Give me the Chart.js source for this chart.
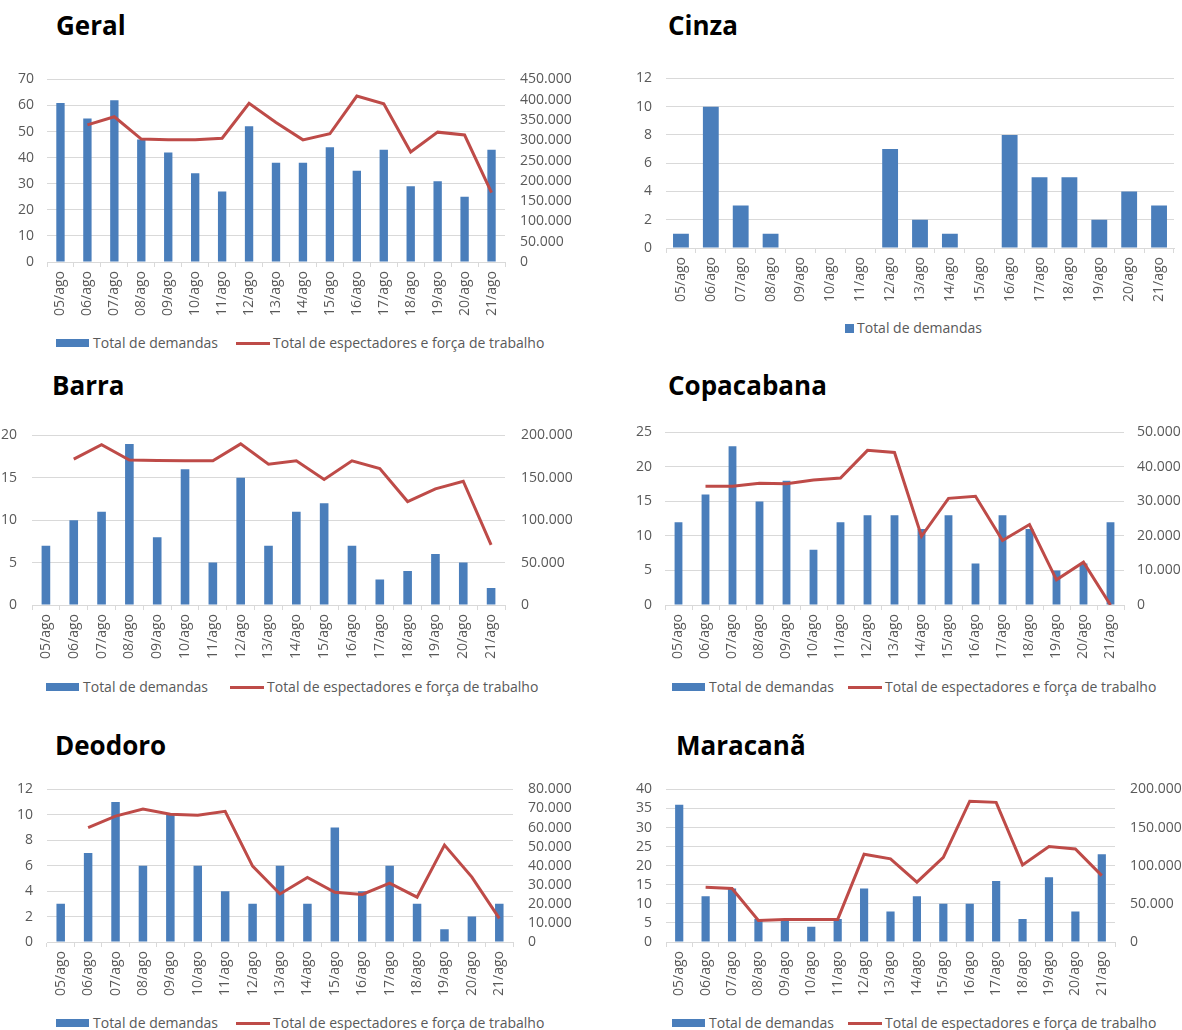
<!DOCTYPE html>
<html lang="pt-BR">
<head>
<meta charset="utf-8">
<title>Demandas e público por local – 05 a 21 de agosto</title>
<script src="https://cdn.jsdelivr.net/npm/chart.js@4.4.1/dist/chart.umd.min.js"></script>
<style>
  html, body { margin: 0; padding: 0; background: #fff; }
  #page { position: relative; width: 1182px; height: 1030px; overflow: hidden; font-family: 'Open Sans', sans-serif; }
  .title { position: absolute; font-weight: 700; font-size: 26px; line-height: 26px; color: #000; white-space: nowrap; }
  canvas { position: absolute; }
  .leg { position: absolute; height: 20px; line-height: 20px; font-size: 14px; color: #595959; white-space: nowrap; display: flex; align-items: center; }
  .sw-bar { display: inline-block; width: 33px; height: 8px; background: #4a7ebb; margin-right: 4px; }
  .sw-line { display: inline-block; width: 34px; height: 3px; background: #be4b48; margin-right: 3px; }
  .sw-sq { display: inline-block; width: 9px; height: 9px; background: #4a7ebb; margin-right: 3px; }
</style>
</head>
<body>
<div id="page">
  <div class="title" style="left:56px;top:12px">Geral</div>
  <div class="title" style="left:668px;top:12px">Cinza</div>
  <div class="title" style="left:52px;top:372px">Barra</div>
  <div class="title" style="left:668px;top:372px">Copacabana</div>
  <div class="title" style="left:55px;top:732px">Deodoro</div>
  <div class="title" style="left:676px;top:732px">Maracanã</div>

  <canvas id="cGeral"></canvas>
  <canvas id="cCinza"></canvas>
  <canvas id="cBarra"></canvas>
  <canvas id="cCopa"></canvas>
  <canvas id="cDeodoro"></canvas>
  <canvas id="cMaracana"></canvas>

  <div class="leg" style="left:56px;top:333px"><span class="sw-bar"></span>Total de demandas</div>
  <div class="leg" style="left:236px;top:333px"><span class="sw-line"></span>Total de espectadores e força de trabalho</div>

  <div class="leg" style="left:845px;top:318px"><span class="sw-sq"></span>Total de demandas</div>

  <div class="leg" style="left:46px;top:677px"><span class="sw-bar"></span>Total de demandas</div>
  <div class="leg" style="left:230px;top:677px"><span class="sw-line"></span>Total de espectadores e força de trabalho</div>

  <div class="leg" style="left:672px;top:677px"><span class="sw-bar"></span>Total de demandas</div>
  <div class="leg" style="left:848px;top:677px"><span class="sw-line"></span>Total de espectadores e força de trabalho</div>

  <div class="leg" style="left:56px;top:1013px"><span class="sw-bar"></span>Total de demandas</div>
  <div class="leg" style="left:236px;top:1013px"><span class="sw-line"></span>Total de espectadores e força de trabalho</div>

  <div class="leg" style="left:672px;top:1013px"><span class="sw-bar"></span>Total de demandas</div>
  <div class="leg" style="left:848px;top:1013px"><span class="sw-line"></span>Total de espectadores e força de trabalho</div>
</div>

<script>
// Dias do período (rótulos do eixo das categorias)
const dias = ['05/ago', '06/ago', '07/ago', '08/ago', '09/ago', '10/ago', '11/ago', '12/ago', '13/ago',
              '14/ago', '15/ago', '16/ago', '17/ago', '18/ago', '19/ago', '20/ago', '21/ago'];

// Geral
const geralDemandas = [61, 55, 62, 47, 42, 34, 27, 52, 38, 38, 44, 35, 43, 29, 31, 25, 43];
const geralPublico  = [null, 338000, 358000, 303000, 301000, 301000, 305000, 391000, 344000,
                       301000, 316000, 409000, 390000, 271000, 320000, 313000, 171000];

// Cinza
const cinzaDemandas = [1, 10, 3, 1, 0, 0, 0, 7, 2, 1, 0, 8, 5, 5, 2, 4, 3];

// Barra
const barraDemandas = [7, 10, 11, 19, 8, 16, 5, 15, 7, 11, 12, 7, 3, 4, 6, 5, 2];
const barraPublico  = [null, 172000, 189000, 171000, 170500, 170000, 170000, 190000, 166000,
                       170000, 148000, 170000, 161000, 122000, 137000, 146000, 71000];

// Copacabana
const copaDemandas = [12, 16, 23, 15, 18, 8, 12, 13, 13, 11, 13, 6, 13, 11, 5, 6, 12];
const copaPublico  = [null, 34400, 34400, 35300, 35100, 36200, 36800, 44800, 44200,
                      19900, 30900, 31500, 18700, 23300, 7300, 12400, 0];

// Deodoro
const deodoroDemandas = [3, 7, 11, 6, 10, 6, 4, 3, 6, 3, 9, 4, 6, 3, 1, 2, 3];
const deodoroPublico  = [null, 60000, 66000, 69700, 67000, 66400, 68500, 39800, 25200,
                         33800, 26100, 24900, 30900, 23500, 50800, 34000, 12400];

// Maracanã
const maracanaDemandas = [36, 12, 14, 6, 6, 4, 6, 14, 8, 12, 10, 10, 16, 6, 17, 8, 23];
const maracanaPublico  = [null, 71700, 70000, 28300, 29600, 29600, 29600, 115000, 109000,
                          78500, 111000, 184500, 183000, 101000, 125000, 122000, 87000];

const AZUL = '#4a7ebb';
const VERMELHO = '#be4b48';
const GRADE = '#d9d9d9';
const TEXTO = '#595959';

Chart.defaults.font.family = "'Open Sans', sans-serif";
Chart.defaults.font.size = 14;
Chart.defaults.color = TEXTO;

function milhar(v) {
  return String(v).replace(/\B(?=(\d{3})+(?!\d))/g, '.');
}

// Monta um painel: barras de demandas e, opcionalmente, linha de público no eixo direito.
// g = geometria do painel em pixels da página (coluna e área de plotagem)
function painel(id, g, demandas, publico, escalaEsq, escalaDir, larguraBarra) {
  const cv = document.getElementById(id);
  const top = g.plotTop - 20;
  const h = g.plotBottom - top + 60;
  cv.width = g.colW; cv.height = h;
  cv.style.left = g.colLeft + 'px';
  cv.style.top = top + 'px';
  cv.style.width = g.colW + 'px';
  cv.style.height = h + 'px';

  const datasets = [];
  if (publico) {
    datasets.push({
      type: 'line',
      label: 'Total de espectadores e força de trabalho',
      data: publico,
      yAxisID: 'y1',
      borderColor: VERMELHO,
      borderWidth: 3,
      pointRadius: 0,
      tension: 0,
      order: 0
    });
  }
  datasets.push({
    type: 'bar',
    label: 'Total de demandas',
    data: demandas,
    yAxisID: 'y',
    backgroundColor: AZUL,
    borderWidth: 0,
    barPercentage: larguraBarra,
    categoryPercentage: 1,
    order: 1
  });

  const scales = {
    x: {
      type: 'category',
      grid: { display: true, drawOnChartArea: false, drawTicks: true, tickLength: 5, color: GRADE, offset: true },
      border: { display: true, color: GRADE },
      ticks: { autoSkip: false, maxRotation: 90, minRotation: 90, padding: 4, color: TEXTO },
      afterFit: s => { s.height = 60; }
    },
    y: {
      position: 'left',
      min: escalaEsq.min, max: escalaEsq.max,
      ticks: { stepSize: escalaEsq.step, autoSkip: false, maxTicksLimit: 30, padding: g.padEsq, color: TEXTO },
      grid: { color: GRADE, drawTicks: false },
      border: { display: false },
      afterFit: s => { s.width = g.plotL - g.colLeft; }
    }
  };
  if (publico) {
    scales.y1 = {
      position: 'right',
      min: escalaDir.min, max: escalaDir.max,
      ticks: { stepSize: escalaDir.step, autoSkip: false, maxTicksLimit: 30, padding: g.padDir, color: TEXTO, callback: v => milhar(v) },
      grid: { display: false, drawTicks: false },
      border: { display: false },
      afterFit: s => { s.width = g.colLeft + g.colW - g.plotR; }
    };
  }

  new Chart(cv, {
    data: { labels: dias, datasets },
    options: {
      responsive: false,
      animation: false,
      devicePixelRatio: 1,
      layout: { padding: { top: 20, right: publico ? 0 : (g.colLeft + g.colW - g.plotR), left: 0, bottom: 0 } },
      plugins: { legend: { display: false }, tooltip: { enabled: false }, title: { display: false } },
      scales
    }
  });
}

painel('cGeral',
  { colLeft: 0, colW: 590, plotL: 47, plotR: 505, plotTop: 76, plotBottom: 262, padEsq: 13, padDir: 15 },
  geralDemandas, geralPublico, { min: 0, max: 70, step: 10 }, { min: 0, max: 450000, step: 50000 }, 0.31);

painel('cCinza',
  { colLeft: 590, colW: 592, plotL: 666, plotR: 1174, plotTop: 76, plotBottom: 248, padEsq: 14, padDir: 0 },
  cinzaDemandas, null, { min: 0, max: 12, step: 2 }, null, 0.53);

painel('cBarra',
  { colLeft: 0, colW: 590, plotL: 32, plotR: 505, plotTop: 431, plotBottom: 605, padEsq: 15, padDir: 16 },
  barraDemandas, barraPublico, { min: 0, max: 20, step: 5 }, { min: 0, max: 200000, step: 50000 }, 0.31);

painel('cCopa',
  { colLeft: 590, colW: 592, plotL: 665, plotR: 1124, plotTop: 431, plotBottom: 605, padEsq: 13, padDir: 13 },
  copaDemandas, copaPublico, { min: 0, max: 25, step: 5 }, { min: 0, max: 50000, step: 10000 }, 0.29);

painel('cDeodoro',
  { colLeft: 0, colW: 590, plotL: 47, plotR: 513, plotTop: 786, plotBottom: 942, padEsq: 14, padDir: 15 },
  deodoroDemandas, deodoroPublico, { min: 0, max: 12, step: 2 }, { min: 0, max: 80000, step: 10000 }, 0.31);

painel('cMaracana',
  { colLeft: 590, colW: 592, plotL: 666, plotR: 1115, plotTop: 786, plotBottom: 942, padEsq: 14, padDir: 15 },
  maracanaDemandas, maracanaPublico, { min: 0, max: 40, step: 5 }, { min: 0, max: 200000, step: 50000 }, 0.31);
</script>
</body>
</html>
